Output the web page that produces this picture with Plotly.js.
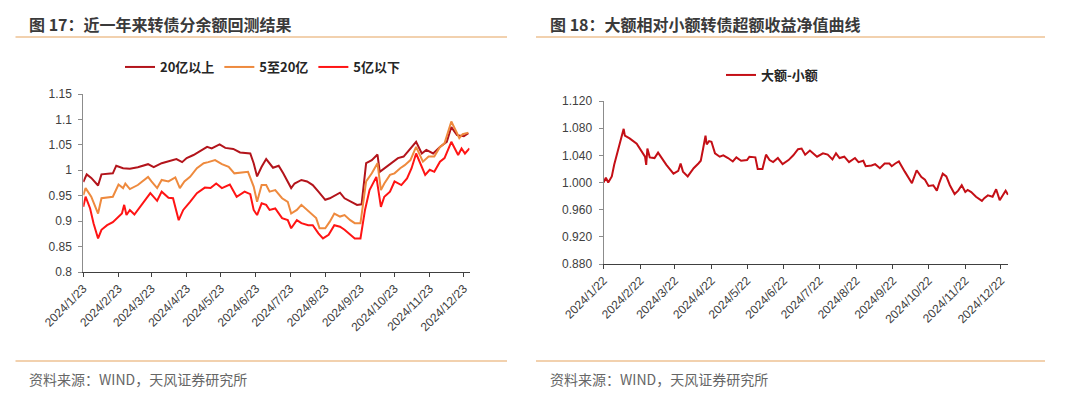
<!DOCTYPE html>
<html>
<head>
<meta charset="utf-8">
<script src="https://cdn.plot.ly/plotly-3.0.1.min.js"></script>
<style>
html,body{margin:0;padding:0;background:#fff;}
#chart{width:1080px;height:394px;}
</style>
</head>
<body>
<div id="chart"></div>
<script>
// ---------- Figure 17 data ----------
const seriesNamesLeft = ['20亿以上', '5至20亿', '5亿以下'];

const dates20 = ['2024-01-23','2024-01-26','2024-01-30','2024-02-05','2024-02-08','2024-02-18','2024-02-21','2024-02-27','2024-03-04','2024-03-11','2024-03-20','2024-03-25','2024-04-01','2024-04-08','2024-04-14','2024-04-19','2024-04-23','2024-04-29','2024-05-05','2024-05-11','2024-05-15','2024-05-22','2024-05-27','2024-06-03','2024-06-09','2024-06-18','2024-06-21','2024-06-24','2024-06-28','2024-07-02','2024-07-08','2024-07-13','2024-07-17','2024-07-24','2024-07-27','2024-08-02','2024-08-07','2024-08-12','2024-08-17','2024-08-23','2024-08-27','2024-08-31','2024-09-05','2024-09-09','2024-09-15','2024-09-20','2024-09-24','2024-09-28','2024-10-03','2024-10-08','2024-10-10','2024-10-14','2024-10-20','2024-10-26','2024-10-31','2024-11-04','2024-11-11','2024-11-16','2024-11-20','2024-11-26','2024-12-02','2024-12-08','2024-12-12','2024-12-17','2024-12-23','2024-12-27'];
const vals20 = [0.977,0.992,0.985,0.970,0.992,0.994,1.009,1.004,1.003,1.006,1.012,1.006,1.014,1.018,1.022,1.016,1.024,1.030,1.038,1.046,1.043,1.051,1.044,1.042,1.035,1.033,1.014,0.988,1.007,1.022,1.005,1.009,0.994,0.965,0.974,0.981,0.978,0.971,0.958,0.942,0.945,0.950,0.956,0.945,0.938,0.932,0.933,1.014,1.020,1.031,0.997,1.004,1.014,1.024,1.027,1.037,1.056,1.033,1.040,1.033,1.046,1.056,1.085,1.069,1.067,1.073];

const dates5to20 = ['2024-01-23','2024-01-25','2024-01-30','2024-02-05','2024-02-08','2024-02-18','2024-02-23','2024-02-27','2024-02-29','2024-03-04','2024-03-11','2024-03-20','2024-03-23','2024-03-28','2024-04-01','2024-04-07','2024-04-13','2024-04-17','2024-04-21','2024-04-26','2024-05-02','2024-05-08','2024-05-12','2024-05-18','2024-05-24','2024-05-30','2024-06-04','2024-06-12','2024-06-16','2024-06-21','2024-06-24','2024-06-28','2024-07-02','2024-07-05','2024-07-10','2024-07-16','2024-07-21','2024-07-24','2024-07-29','2024-08-02','2024-08-07','2024-08-11','2024-08-15','2024-08-18','2024-08-23','2024-08-27','2024-08-31','2024-09-05','2024-09-09','2024-09-14','2024-09-18','2024-09-23','2024-09-28','2024-10-03','2024-10-08','2024-10-11','2024-10-14','2024-10-19','2024-10-23','2024-10-28','2024-11-01','2024-11-06','2024-11-11','2024-11-17','2024-11-22','2024-11-27','2024-12-02','2024-12-06','2024-12-12','2024-12-17','2024-12-19','2024-12-22','2024-12-27'];
const vals5to20 = [0.951,0.965,0.948,0.915,0.945,0.948,0.972,0.965,0.974,0.963,0.971,0.987,0.978,0.965,0.981,0.978,0.986,0.965,0.978,0.987,1.004,1.014,1.016,1.020,1.012,1.007,0.994,0.996,0.997,0.968,0.938,0.971,0.971,0.958,0.961,0.945,0.938,0.915,0.922,0.932,0.922,0.915,0.906,0.886,0.886,0.899,0.915,0.909,0.912,0.902,0.896,0.896,0.978,0.994,1.014,0.961,0.974,0.991,0.994,1.004,1.010,1.020,1.046,1.017,1.027,1.027,1.046,1.053,1.096,1.073,1.063,1.071,1.074];

const dates5 = ['2024-01-23','2024-01-25','2024-01-29','2024-02-01','2024-02-05','2024-02-08','2024-02-13','2024-02-18','2024-02-26','2024-02-28','2024-03-01','2024-03-04','2024-03-08','2024-03-14','2024-03-22','2024-03-28','2024-04-01','2024-04-07','2024-04-11','2024-04-16','2024-04-20','2024-04-26','2024-05-02','2024-05-09','2024-05-14','2024-05-19','2024-05-24','2024-05-31','2024-06-06','2024-06-13','2024-06-18','2024-06-21','2024-06-24','2024-06-28','2024-07-02','2024-07-05','2024-07-10','2024-07-16','2024-07-21','2024-07-24','2024-07-29','2024-08-02','2024-08-08','2024-08-12','2024-08-17','2024-08-21','2024-08-26','2024-08-31','2024-09-05','2024-09-09','2024-09-14','2024-09-18','2024-09-23','2024-09-27','2024-10-01','2024-10-07','2024-10-11','2024-10-14','2024-10-19','2024-10-23','2024-10-29','2024-11-03','2024-11-07','2024-11-11','2024-11-19','2024-11-23','2024-11-27','2024-12-02','2024-12-06','2024-12-12','2024-12-18','2024-12-21','2024-12-24','2024-12-28'];
const vals5 = [0.928,0.948,0.925,0.896,0.866,0.883,0.892,0.898,0.915,0.932,0.912,0.922,0.913,0.932,0.955,0.940,0.958,0.946,0.945,0.902,0.922,0.938,0.955,0.966,0.965,0.974,0.965,0.972,0.948,0.958,0.953,0.922,0.912,0.935,0.932,0.922,0.925,0.906,0.902,0.886,0.902,0.896,0.892,0.892,0.876,0.866,0.873,0.892,0.889,0.883,0.873,0.866,0.866,0.922,0.961,0.987,0.928,0.948,0.958,0.978,0.971,0.984,1.004,1.033,0.991,1.001,0.997,1.017,1.024,1.056,1.030,1.043,1.033,1.043];

const tickDatesLeft = ['2024-01-23','2024-02-23','2024-03-23','2024-04-23','2024-05-23','2024-06-23','2024-07-23','2024-08-23','2024-09-23','2024-10-23','2024-11-23','2024-12-23'];
const tickLabelsLeft = ['2024/1/23','2024/2/23','2024/3/23','2024/4/23','2024/5/23','2024/6/23','2024/7/23','2024/8/23','2024/9/23','2024/10/23','2024/11/23','2024/12/23'];

// ---------- Figure 18 data ----------
const seriesNameRight = '大额-小额';
const datesRight = ['2024-01-22','2024-01-24','2024-01-26','2024-01-29','2024-01-31','2024-02-02','2024-02-04','2024-02-06','2024-02-08','2024-02-09','2024-02-13','2024-02-19','2024-02-23','2024-02-26','2024-02-27','2024-02-28','2024-03-01','2024-03-05','2024-03-08','2024-03-12','2024-03-15','2024-03-21','2024-03-25','2024-03-27','2024-03-29','2024-04-02','2024-04-07','2024-04-11','2024-04-13','2024-04-15','2024-04-17','2024-04-18','2024-04-20','2024-04-22','2024-04-25','2024-04-29','2024-05-02','2024-05-06','2024-05-10','2024-05-13','2024-05-17','2024-05-22','2024-05-24','2024-05-29','2024-05-31','2024-06-04','2024-06-07','2024-06-10','2024-06-13','2024-06-17','2024-06-21','2024-06-26','2024-06-30','2024-07-04','2024-07-07','2024-07-10','2024-07-14','2024-07-20','2024-07-25','2024-07-29','2024-08-02','2024-08-05','2024-08-08','2024-08-12','2024-08-16','2024-08-21','2024-08-24','2024-08-28','2024-08-30','2024-09-04','2024-09-07','2024-09-11','2024-09-15','2024-09-19','2024-09-21','2024-09-24','2024-09-27','2024-10-02','2024-10-08','2024-10-12','2024-10-16','2024-10-19','2024-10-22','2024-10-26','2024-10-29','2024-10-31','2024-11-03','2024-11-06','2024-11-09','2024-11-13','2024-11-16','2024-11-19','2024-11-22','2024-11-24','2024-11-27','2024-12-01','2024-12-06','2024-12-08','2024-12-11','2024-12-15','2024-12-18','2024-12-21','2024-12-24','2024-12-26','2024-12-28'];
const valsRight = [1.000,1.007,1.000,1.009,1.026,1.040,1.055,1.067,1.079,1.069,1.065,1.057,1.045,1.038,1.026,1.050,1.037,1.036,1.044,1.033,1.026,1.013,1.017,1.028,1.016,1.009,1.021,1.028,1.032,1.050,1.069,1.056,1.061,1.060,1.043,1.038,1.040,1.036,1.031,1.037,1.032,1.033,1.038,1.037,1.020,1.020,1.041,1.033,1.030,1.036,1.027,1.033,1.040,1.049,1.050,1.041,1.047,1.038,1.043,1.041,1.034,1.043,1.036,1.038,1.030,1.036,1.030,1.032,1.024,1.025,1.027,1.021,1.028,1.028,1.024,1.028,1.031,1.016,0.999,1.018,1.008,1.004,0.995,0.996,0.988,0.999,1.013,1.009,0.996,0.983,0.988,0.996,0.986,0.989,0.986,0.979,0.973,0.977,0.981,0.979,0.990,0.974,0.982,0.988,0.982];

const tickDatesRight = ['2024-01-22','2024-02-22','2024-03-22','2024-04-22','2024-05-22','2024-06-22','2024-07-22','2024-08-22','2024-09-22','2024-10-22','2024-11-22','2024-12-22'];
const tickLabelsRight = ['2024/1/22','2024/2/22','2024/3/22','2024/4/22','2024/5/22','2024/6/22','2024/7/22','2024/8/22','2024/9/22','2024/10/22','2024/11/22','2024/12/22'];

const titleLeft = '图 17：近一年来转债分余额回测结果';
const titleRight = '图 18：大额相对小额转债超额收益净值曲线';
const sourceText = '资料来源：WIND，天风证券研究所';

// ---------- styling ----------
const FONT = 'Liberation Sans, Arial, Noto Sans CJK SC, sans-serif';
const CJK = 'Noto Sans CJK SC, Liberation Sans, sans-serif';
const W = 1080, H = 394;
const px = v => v / W;
const py = v => 1 - v / H;

const traces = [
  {x: dates20, y: vals20, name: seriesNamesLeft[0], type: 'scatter', mode: 'lines',
   line: {color: '#B3141B', width: 2}, xaxis: 'x', yaxis: 'y', legend: 'legend'},
  {x: dates5to20, y: vals5to20, name: seriesNamesLeft[1], type: 'scatter', mode: 'lines',
   line: {color: '#EE8A3E', width: 2}, xaxis: 'x', yaxis: 'y', legend: 'legend'},
  {x: dates5, y: vals5, name: seriesNamesLeft[2], type: 'scatter', mode: 'lines',
   line: {color: '#FF1414', width: 2}, xaxis: 'x', yaxis: 'y', legend: 'legend'},
  {x: datesRight, y: valsRight, name: seriesNameRight, type: 'scatter', mode: 'lines',
   line: {color: '#C40F16', width: 2}, xaxis: 'x2', yaxis: 'y2', legend: 'legend2'}
];

const tickFont = {family: FONT, size: 12, color: '#404040'};
const xCommon = {
  type: 'date', showgrid: false, zeroline: false, showline: true,
  linecolor: '#404040', linewidth: 1, ticks: 'outside', ticklen: 4, tickcolor: '#404040',
  tickangle: -45, tickfont: tickFont, tickmode: 'array'
};
const yCommon = {
  showgrid: false, zeroline: false, showline: true, linecolor: '#8C8C8C', linewidth: 1,
  ticks: 'outside', ticklen: 4, tickcolor: '#8C8C8C', tickfont: tickFont, ticklabelstandoff: 4
};

const sepColor = '#EEC293';
const layout = {
  width: W, height: H,
  margin: {l: 0, r: 0, t: 0, b: 0},
  paper_bgcolor: '#ffffff', plot_bgcolor: '#ffffff',
  showlegend: true,
  xaxis: Object.assign({}, xCommon, {
    domain: [px(83.3), px(469.5)], anchor: 'y',
    range: ['2024-01-23', '2024-12-28'],
    tickvals: tickDatesLeft, ticktext: tickLabelsLeft
  }),
  yaxis: Object.assign({}, yCommon, {
    domain: [py(272), py(94)], anchor: 'x',
    range: [0.8, 1.15], tick0: 0.8, dtick: 0.05
  }),
  xaxis2: Object.assign({}, xCommon, {
    domain: [px(603.5), px(1008.3)], anchor: 'y2',
    range: ['2024-01-22', '2024-12-28 06:00'],
    tickvals: tickDatesRight, ticktext: tickLabelsRight
  }),
  yaxis2: Object.assign({}, yCommon, {
    domain: [py(264), py(101)], anchor: 'x2',
    range: [0.88, 1.12], tick0: 0.88, dtick: 0.04, tickformat: '.3f'
  }),
  legend: {
    orientation: 'h', x: px(263), xanchor: 'center', y: py(67), yanchor: 'middle',
    font: {family: CJK, size: 13, color: '#262626', weight: 'bold'},
    bgcolor: 'rgba(0,0,0,0)', itemwidth: 30, tracegroupgap: 0
  },
  legend2: {
    orientation: 'h', x: px(772), xanchor: 'center', y: py(75), yanchor: 'middle',
    font: {family: CJK, size: 13, color: '#262626', weight: 'bold'},
    bgcolor: 'rgba(0,0,0,0)', itemwidth: 30
  },
  shapes: [
    {type: 'line', xref: 'paper', yref: 'paper', x0: px(15.5), x1: px(507), y0: py(37), y1: py(37), line: {color: sepColor, width: 1.5}},
    {type: 'line', xref: 'paper', yref: 'paper', x0: px(536), x1: px(1045), y0: py(37), y1: py(37), line: {color: sepColor, width: 1.5}},
    {type: 'line', xref: 'paper', yref: 'paper', x0: px(15.5), x1: px(507), y0: py(361), y1: py(361), line: {color: sepColor, width: 1.5}},
    {type: 'line', xref: 'paper', yref: 'paper', x0: px(536), x1: px(1045), y0: py(361), y1: py(361), line: {color: sepColor, width: 1.5}}
  ],
  annotations: [
    {text: titleLeft, xref: 'paper', yref: 'paper', x: px(27), y: py(24), xanchor: 'left', yanchor: 'middle', showarrow: false,
     font: {family: CJK, size: 16, color: '#3A3A3A', weight: 'bold'}},
    {text: titleRight, xref: 'paper', yref: 'paper', x: px(548), y: py(24), xanchor: 'left', yanchor: 'middle', showarrow: false,
     font: {family: CJK, size: 16, color: '#3A3A3A', weight: 'bold'}},
    {text: sourceText, xref: 'paper', yref: 'paper', x: px(27), y: py(379), xanchor: 'left', yanchor: 'middle', showarrow: false,
     font: {family: CJK, size: 14, color: '#666666'}},
    {text: sourceText, xref: 'paper', yref: 'paper', x: px(548), y: py(379), xanchor: 'left', yanchor: 'middle', showarrow: false,
     font: {family: CJK, size: 14, color: '#666666'}}
  ]
};

Plotly.newPlot('chart', traces, layout, {staticPlot: true, displayModeBar: false});
</script>
</body>
</html>
